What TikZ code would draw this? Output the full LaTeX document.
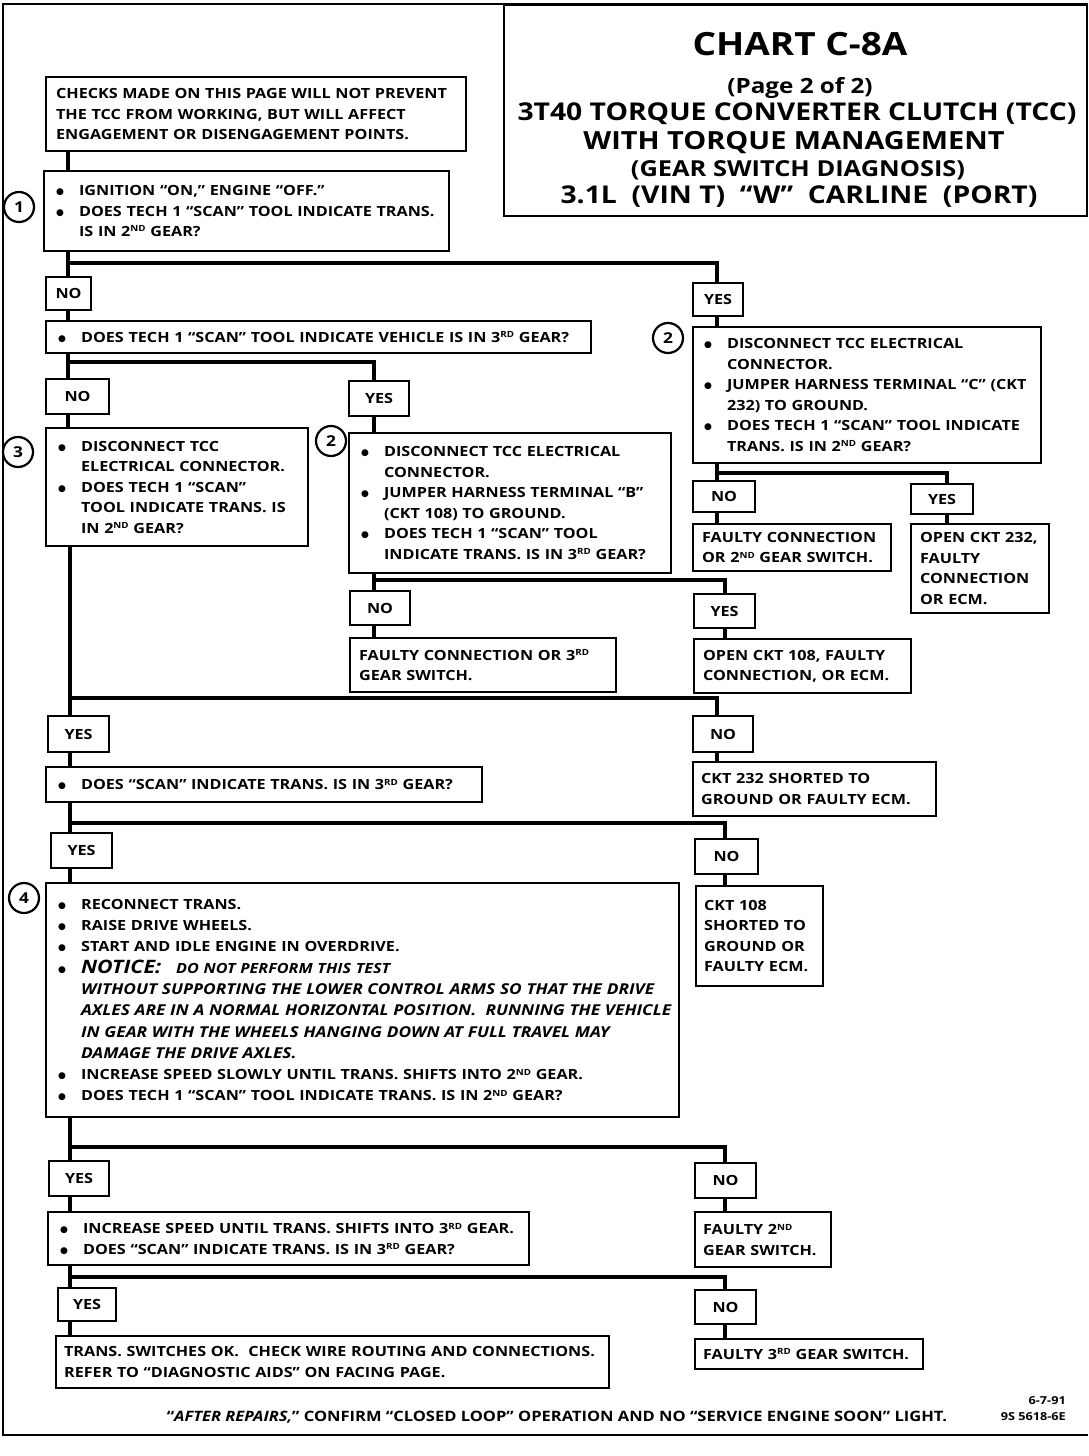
\documentclass[tikz,border=0pt]{standalone}
\usepackage{fontspec}
\setmainfont{Open Sans}[FakeStretch=1.155]
\newfontfamily\dejavu{DejaVu Sans}
\usetikzlibrary{calc}
\pgfdeclarelayer{bg}
\pgfsetlayers{bg,main}
\newcommand\sps[1]{\raisebox{0.6ex}{\fontsize{8.5}{8}\selectfont #1}}
\newcommand\bl{\makebox[23pt][l]{\raisebox{1pt}{\dejavu\fontsize{9}{8}\selectfont ●}}}
\newcommand\ind{\hspace*{23pt}}
\newcommand\blb{\hspace*{6pt}\bl}
\newcommand\indb{\hspace*{29pt}}
\newcommand\bodyf{\bfseries\fontsize{14}{20.5}\selectfont}
\newcommand\itf{\itshape\fontsize{15}{21.3}\selectfont}
\tikzset{
  bx/.style={draw, line width=2.2pt, fill=white, anchor=north west, align=left,
    inner xsep=0pt, inner ysep=2pt, font=\bodyf},
  lbl/.style={draw, line width=2.2pt, fill=white, anchor=north west, align=center,
    inner sep=0pt, font=\bodyf},
  conn/.style={line width=4.5pt},
  num/.style={draw, circle, line width=2.2pt, minimum size=30pt, inner sep=0pt,
    fill=white, font=\bfseries\fontsize{15}{15}\selectfont},
  ttl/.style={font=\bfseries, inner sep=0pt}
}
\begin{document}
\begin{tikzpicture}[x=1pt,y=-1pt]
\useasboundingbox (0,0) rectangle (1088,1456);
% frame
\draw[line width=2.8pt] (1088,4) -- (3,4) -- (3,1435) -- (1088,1435);
\node[draw, line width=2.2pt, anchor=north west, minimum width=583pt, minimum height=211pt, inner sep=0pt] (title) at (503,4) {};
\node[ttl, font=\bfseries\fontsize{32}{32}\selectfont] (t1) at (800,44) {CHART C-8A};
\node[ttl, font=\bfseries\fontsize{21}{21}\selectfont] (t2) at (800,88) {(Page 2 of 2)};
\node[ttl, font=\bfseries\fontsize{24.5}{24}\selectfont] (t3) at (797,114) {3T40 TORQUE CONVERTER CLUTCH (TCC)};
\node[ttl, font=\bfseries\fontsize{25}{24}\selectfont] (t4) at (794,143) {WITH TORQUE MANAGEMENT};
\node[ttl, font=\bfseries\fontsize{22}{21}\selectfont] (t5) at (798,170) {(GEAR SWITCH DIAGNOSIS)};
\node[ttl, font=\bfseries\fontsize{24.5}{24}\selectfont] (t6) at (799,197) {3.1L\ \ (VIN T)\ \ “W”\ \ CARLINE\ \ (PORT)};

% columns and rows
\coordinate (tA) at (68,0);
\coordinate (tB) at (70,0);
\coordinate (cM) at (374,0);
\coordinate (cR) at (717,0);
\coordinate (cR2) at (725,0);
\coordinate (cRR) at (947,0);
\coordinate (r1) at (0,263);
\coordinate (r2) at (0,362);
\coordinate (r3) at (0,473);
\coordinate (r4) at (0,580);
\coordinate (r5) at (0,698);
\coordinate (r6) at (0,823);
\coordinate (r7) at (0,1147);
\coordinate (r8) at (0,1277);

% boxes
\node[bx, minimum width=420pt, minimum height=74pt, text width=400pt] (intro) at (45,76)
 {CHECKS MADE ON THIS PAGE WILL NOT PREVENT\\THE TCC FROM WORKING, BUT WILL AFFECT\\ENGAGEMENT OR DISENGAGEMENT POINTS.};
\node[bx, minimum width=405pt, minimum height=80pt, text width=381pt] (b1) at (43,170)
 {\bl IGNITION “ON,” ENGINE “OFF.”\\\bl DOES TECH 1 “SCAN” TOOL INDICATE TRANS.\\\ind IS IN 2\sps{ND} GEAR?};
\node[num] (n1) at (19,207) {1};

\node[lbl, minimum width=45pt, minimum height=33pt] (no1) at (45,276) {NO};
\node[lbl, minimum width=50pt, minimum height=33pt] (yes1) at (692,282) {YES};

\node[bx, minimum width=545pt, minimum height=32pt, text width=521pt] (q2) at (45,320)
 {\bl DOES TECH 1 “SCAN” TOOL INDICATE VEHICLE IS IN 3\sps{RD} GEAR?};

\node[bx, minimum width=348pt, minimum height=136pt, text width=326pt] (b2b) at (692,326)
 {\bl DISCONNECT TCC ELECTRICAL\\\ind CONNECTOR.\\\bl JUMPER HARNESS TERMINAL “C” (CKT\\\ind 232) TO GROUND.\\\bl DOES TECH 1 “SCAN” TOOL INDICATE\\\ind TRANS. IS IN 2\sps{ND} GEAR?};
\node[num] (n2b) at (668,338) {2};

\node[lbl, minimum width=63pt, minimum height=35pt] (no2) at (45,378) {NO};
\node[lbl, minimum width=60pt, minimum height=35pt] (yes2) at (348,380) {YES};

\node[bx, minimum width=262pt, minimum height=118pt, text width=238pt] (b3) at (45,427)
 {\bl DISCONNECT TCC\\\ind ELECTRICAL CONNECTOR.\\\bl DOES TECH 1 “SCAN”\\\ind TOOL INDICATE TRANS. IS\\\ind IN 2\sps{ND} GEAR?};
\node[num] (n3) at (18,452) {3};

\node[bx, minimum width=322pt, minimum height=140pt, text width=298pt] (b2a) at (348,432)
 {\bl DISCONNECT TCC ELECTRICAL\\\ind CONNECTOR.\\\bl JUMPER HARNESS TERMINAL “B”\\\ind (CKT 108) TO GROUND.\\\bl DOES TECH 1 “SCAN” TOOL\\\ind INDICATE TRANS. IS IN 3\sps{RD} GEAR?};
\node[num] (n2a) at (331,441) {2};

\node[lbl, minimum width=62pt, minimum height=31pt] (no3) at (692,480) {NO};
\node[lbl, minimum width=62pt, minimum height=30pt] (yes3) at (910,483) {YES};
\node[bx, minimum width=198pt, minimum height=47pt, text width=180pt] (f2c) at (692,523)
 {FAULTY CONNECTION\\OR 2\sps{ND} GEAR SWITCH.};
\node[bx, minimum width=138pt, minimum height=89pt, text width=120pt] (o232) at (910,523)
 {OPEN CKT 232,\\FAULTY\\CONNECTION\\OR ECM.};

\node[lbl, minimum width=60pt, minimum height=34pt] (no4) at (349,590) {NO};
\node[lbl, minimum width=61pt, minimum height=34pt] (yes4) at (693,593) {YES};
\node[bx, minimum width=266pt, minimum height=54pt, text width=248pt] (f3c) at (349,637)
 {FAULTY CONNECTION OR 3\sps{RD}\\GEAR SWITCH.};
\node[bx, minimum width=217pt, minimum height=54pt, text width=199pt] (o108) at (693,638)
 {OPEN CKT 108, FAULTY\\CONNECTION, OR ECM.};

\node[lbl, minimum width=61pt, minimum height=36pt] (yes5) at (47,715) {YES};
\node[lbl, minimum width=60pt, minimum height=36pt] (no5) at (692,715) {NO};
\node[bx, minimum width=436pt, minimum height=35pt, text width=412pt] (q5) at (45,766)
 {\bl DOES “SCAN” INDICATE TRANS. IS IN 3\sps{RD} GEAR?};
\node[bx, minimum width=243pt, minimum height=54pt, text width=227pt] (s232) at (692,761)
 {CKT 232 SHORTED TO\\GROUND OR FAULTY ECM.};

\node[lbl, minimum width=61pt, minimum height=35pt] (yes6) at (50,832) {YES};
\node[lbl, minimum width=63pt, minimum height=35pt] (no6) at (694,838) {NO};

\node[bx, minimum width=633pt, minimum height=234pt, text width=621pt, font=\bfseries\fontsize{14}{21.3}\selectfont] (b4) at (45,882)
 {\blb RECONNECT TRANS.\\
  \blb RAISE DRIVE WHEELS.\\
  \blb START AND IDLE ENGINE IN OVERDRIVE.\\
  \blb {\itshape\fontsize{18.5}{19}\selectfont NOTICE:}\hspace{15pt}{\itshape\fontsize{14}{12}\selectfont DO NOT PERFORM THIS TEST}\\
  \indb{\itf WITHOUT SUPPORTING THE LOWER CONTROL ARMS SO THAT THE DRIVE}\\
  \indb{\itf AXLES ARE IN A NORMAL HORIZONTAL POSITION.\ \ RUNNING THE VEHICLE}\\
  \indb{\itf IN GEAR WITH THE WHEELS HANGING DOWN AT FULL TRAVEL MAY}\\
  \indb{\itf DAMAGE THE DRIVE AXLES.}\\
  \blb INCREASE SPEED SLOWLY UNTIL TRANS. SHIFTS INTO 2\sps{ND} GEAR.\\
  \blb DOES TECH 1 “SCAN” TOOL INDICATE TRANS. IS IN 2\sps{ND} GEAR?};
\node[num] (n4) at (24,898) {4};
\node[bx, minimum width=127pt, minimum height=100pt, text width=111pt] (s108) at (695,885)
 {CKT 108\\SHORTED TO\\GROUND OR\\FAULTY ECM.};

\node[lbl, minimum width=60pt, minimum height=35pt] (yes7) at (48,1160) {YES};
\node[lbl, minimum width=61pt, minimum height=35pt] (no7) at (694,1162) {NO};
\node[bx, minimum width=481pt, minimum height=53pt, text width=457pt] (b7) at (47,1211)
 {\bl INCREASE SPEED UNTIL TRANS. SHIFTS INTO 3\sps{RD} GEAR.\\\bl DOES “SCAN” INDICATE TRANS. IS IN 3\sps{RD} GEAR?};
\node[bx, minimum width=136pt, minimum height=55pt, text width=120pt] (f2) at (694,1211)
 {FAULTY 2\sps{ND}\\GEAR SWITCH.};

\node[lbl, minimum width=58pt, minimum height=33pt] (yes8) at (57,1287) {YES};
\node[lbl, minimum width=61pt, minimum height=34pt] (no8) at (694,1289) {NO};
\node[bx, minimum width=553pt, minimum height=52pt, text width=537pt] (ok) at (55,1335)
 {TRANS. SWITCHES OK.\ \ CHECK WIRE ROUTING AND CONNECTIONS.\\REFER TO “DIAGNOSTIC AIDS” ON FACING PAGE.};
\node[bx, minimum width=228pt, minimum height=30pt, text width=212pt] (f3) at (694,1338)
 {FAULTY 3\sps{RD} GEAR SWITCH.};

\node[font=\bfseries\fontsize{14.3}{14}\selectfont, inner sep=0pt] (foot) at (557,1417)
 {“{\itshape AFTER REPAIRS,}” CONFIRM “CLOSED LOOP” OPERATION AND NO “SERVICE ENGINE SOON” LIGHT.};
\node[font=\bfseries\fontsize{11}{16}\selectfont, inner sep=0pt, align=right, anchor=east] (code) at (1066,1409)
 {6-7-91\\9S 5618-6E};

% connectors
\begin{pgfonlayer}{bg}
\draw[conn] (intro.south -| tA) -- (b1.north -| tA);
\draw[conn] (b1.south -| tA) -- (no1.north -| tA);
\draw[conn] (r1 -| tA) -- (r1 -| cR) -- (yes1.north -| cR);
\draw[conn] (no1.south -| tA) -- (q2.north -| tA);
\draw[conn] (yes1.south -| cR) -- (b2b.north -| cR);
\draw[conn] (q2.south -| tA) -- (no2.north -| tA);
\draw[conn] (r2 -| tA) -- (r2 -| cM) -- (yes2.north -| cM);
\draw[conn] (no2.south -| tA) -- (b3.north -| tA);
\draw[conn] (yes2.south -| cM) -- (b2a.north -| cM);
% right column under b2b
\draw[conn] (b2b.south -| cR) -- (no3.north -| cR);
\draw[conn] (r3 -| cR) -- (r3 -| cRR) -- (yes3.north -| cRR);
\draw[conn] (no3.south -| cR) -- (f2c.north -| cR);
\draw[conn] (yes3.south -| cRR) -- (o232.north -| cRR);
% middle column under b2a
\draw[conn] (b2a.south -| cM) -- (no4.north -| cM);
\draw[conn] (r4 -| cM) -- (r4 -| cR2) -- (yes4.north -| cR2);
\draw[conn] (no4.south -| cM) -- (f3c.north -| cM);
\draw[conn] (yes4.south -| cR2) -- (o108.north -| cR2);
% main trunk lower
\draw[conn] (b3.south -| tB) -- (yes5.north -| tB);
\draw[conn] (r5 -| tB) -- (r5 -| cR) -- (no5.north -| cR);
\draw[conn] (yes5.south -| tB) -- (q5.north -| tB);
\draw[conn] (no5.south -| cR) -- (s232.north -| cR);
\draw[conn] (q5.south -| tB) -- (yes6.north -| tB);
\draw[conn] (r6 -| tB) -- (r6 -| cR2) -- (no6.north -| cR2);
\draw[conn] (yes6.south -| tB) -- (b4.north -| tB);
\draw[conn] (no6.south -| cR2) -- (s108.north -| cR2);
\draw[conn] (b4.south -| tB) -- (yes7.north -| tB);
\draw[conn] (r7 -| tB) -- (r7 -| cR2) -- (no7.north -| cR2);
\draw[conn] (yes7.south -| tB) -- (b7.north -| tB);
\draw[conn] (no7.south -| cR2) -- (f2.north -| cR2);
\draw[conn] (b7.south -| tB) -- (yes8.north -| tB);
\draw[conn] (r8 -| tB) -- (r8 -| cR2) -- (no8.north -| cR2);
\draw[conn] (yes8.south -| tB) -- (ok.north -| tB);
\draw[conn] (no8.south -| cR2) -- (f3.north -| cR2);
\end{pgfonlayer}
\end{tikzpicture}
\end{document}
